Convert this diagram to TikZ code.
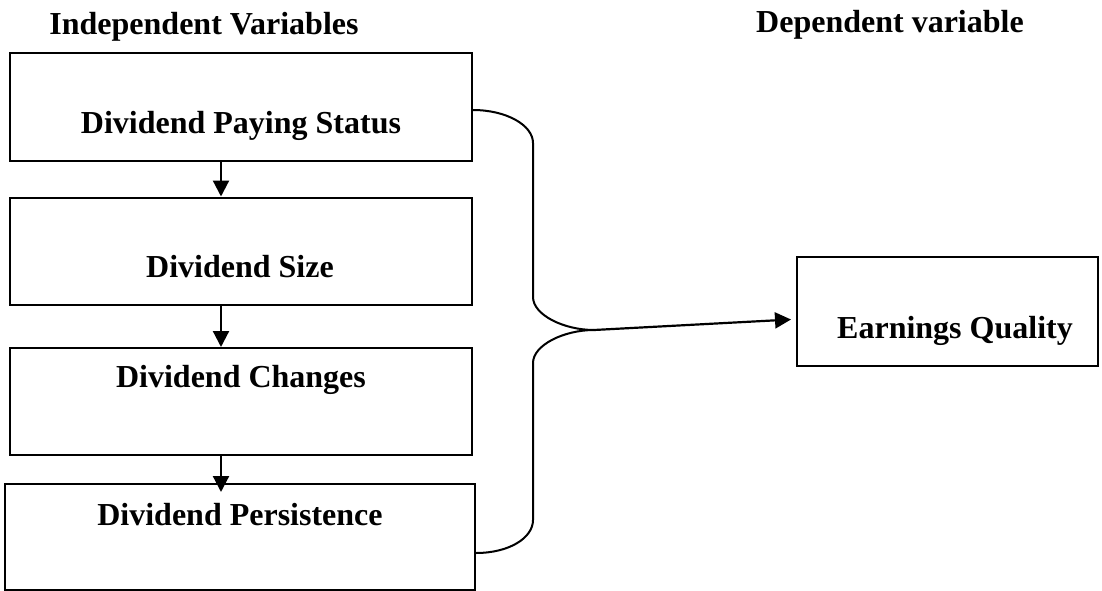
\documentclass[tikz,border=0pt]{standalone}
\usepackage{fontspec}
\setmainfont{Liberation Serif}
\usetikzlibrary{arrows.meta}

\begin{document}
\begin{tikzpicture}[x=1pt,y=-1pt,
  varbox/.style={draw,line width=2pt,minimum width=462pt,minimum height=107pt,inner sep=0pt},
  lbl/.style={anchor=base,inner sep=0pt,font=\fontsize{32}{38}\selectfont\bfseries},
  flow/.style={line width=2.2pt,-{Triangle[length=16pt,width=16pt]}}]
\useasboundingbox (0,0) rectangle (1102,591);
\node[lbl] (indep) at (204,35) {Independent Variables};
\node[lbl] (dep) at (890,33) {Dependent variable};
% boxes
\node[varbox] (ps) at (241,107) {};
\node[varbox] (size) at (241,251) {};
\node[varbox] (chg) at (241,401.5) {};
\node[varbox,minimum width=470pt,minimum height=106pt] (pers) at (240,537) {};
\node[varbox,minimum width=301pt,minimum height=109pt] (eq) at (947.5,311.5) {};
% texts
\node[lbl] (pstxt) at (241,133) {Dividend Paying Status};
\node[lbl] (sizetxt) at (240,277) {Dividend Size};
\node[lbl] (chgtxt) at (241,387) {Dividend Changes};
\node[lbl] (perstxt) at (240,525) {Dividend Persistence};
\node[lbl] (eqtxt) at (955,338) {Earnings Quality};
% arrows down
\draw[flow] ([xshift=-20pt]ps.south) -- ([xshift=-20pt]size.north);
\draw[flow] ([xshift=-20pt]size.south) -- ([xshift=-20pt]chg.north);
\draw[flow] ([xshift=-20pt]chg.south) -- ([xshift=-19pt,yshift=-9pt]pers.north);
% brace
\coordinate (tip) at (594,330);
\draw[line width=2pt] ([yshift=-3pt]ps.east) .. controls +(33,0) and +(0,-18) .. (533,143)
  -- (533,297) .. controls +(0,18) and +(-30,0) .. (tip)
  .. controls +(-30,0) and +(0,-18) .. (533,363)
  -- (533,520) .. controls +(0,18) and +(33,0) .. ([yshift=-16pt]pers.east);
\draw[flow] (tip) -- ([xshift=-5pt,yshift=-8pt]eq.west);
\end{tikzpicture}
\end{document}
